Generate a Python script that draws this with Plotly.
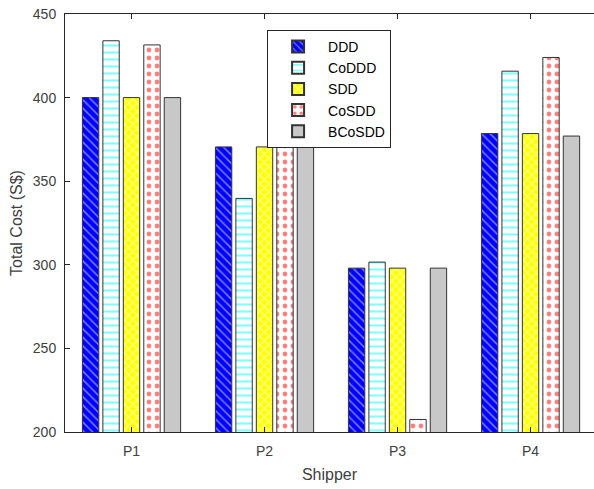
import plotly.graph_objects as go

categories = ["P1", "P2", "P3", "P4"]
x_pos = [1, 2, 3, 4]
series_names = ["DDD", "CoDDD", "SDD", "CoSDD", "BCoSDD"]
ddd = [400, 370.5, 298, 378.5]
coddd = [434, 339.7, 301.6, 415.8]
sdd = [400, 370.5, 298, 378.5]
cosdd = [431.5, 370.5, 207.5, 424]
bcosdd = [400, 370.5, 298, 377]
y_ticks = [200, 250, 300, 350, 400, 450]

styles = [
    dict(color="#0000ff", pattern=dict(shape="\\", bgcolor="#0000ff", fgcolor="#ffffff", size=6, solidity=0.25)),
    dict(color="#ffffff", pattern=dict(shape="-", bgcolor="#ffffff", fgcolor="#00ffff", size=7, solidity=0.3)),
    dict(color="#ffff00", pattern=dict(shape="x", bgcolor="#ffff00", fgcolor="#ffffff", size=6, solidity=0.4)),
    dict(color="#ffffff", pattern=dict(shape=".", bgcolor="#ffffff", fgcolor="#ff0000", size=8, solidity=0.28)),
    dict(color="#c8c8c8", pattern=dict(shape="")),
]

fig = go.Figure()
for name, vals, st in zip(series_names, [ddd, coddd, sdd, cosdd, bcosdd], styles):
    fig.add_trace(go.Bar(
        x=x_pos, y=vals, name=name,
        marker=dict(color=st["color"], pattern=st["pattern"],
                    line=dict(color="#333333", width=1)),
    ))

axis_font = dict(family="Liberation Sans, Arial, sans-serif", size=14, color="#404040")
fig.update_layout(
    width=594, height=489,
    margin=dict(l=65, r=0, t=14, b=57),
    paper_bgcolor="white", plot_bgcolor="white",
    barmode="group", bargap=0.231, bargroupgap=0.2,
    font=dict(family="Liberation Sans, Arial, sans-serif", size=14, color="#262626"),
    xaxis=dict(
        range=[0.5, 4.477], tickmode="array", tickvals=x_pos, ticktext=categories,
        showline=True, linecolor="#262626", linewidth=1, mirror="ticks",
        ticks="inside", ticklen=5, tickcolor="#262626", showgrid=False, zeroline=False,
        tickfont=axis_font, automargin=False, ticklabelstandoff=6,
        title=dict(text="Shipper", font=dict(size=16, color="#404040"), standoff=11),
    ),
    yaxis=dict(
        range=[200, 450], tickmode="array", tickvals=y_ticks,
        showline=True, linecolor="#262626", linewidth=1, mirror=False,
        ticks="inside", ticklen=5, tickcolor="#262626", showgrid=False, zeroline=False,
        tickfont=axis_font, automargin=False, ticklabelstandoff=5,
        title=dict(text="Total Cost (S$)", font=dict(size=16, color="#404040"), standoff=6),
    ),
    legend=dict(
        x=0.382, y=0.962, xanchor="left", yanchor="top",
        bgcolor="white", bordercolor="#262626", borderwidth=1,
        font=dict(size=14, color="#000000"), itemwidth=50,
        tracegroupgap=0, itemsizing="constant",
    ),
)
fig.write_html(
    "out.html",
    config={"displayModeBar": False},
    post_script=(
        "document.body.style.margin='0';"
        "document.body.style.overflow='hidden';"
        "document.documentElement.style.overflow='hidden';"
    ),
)
